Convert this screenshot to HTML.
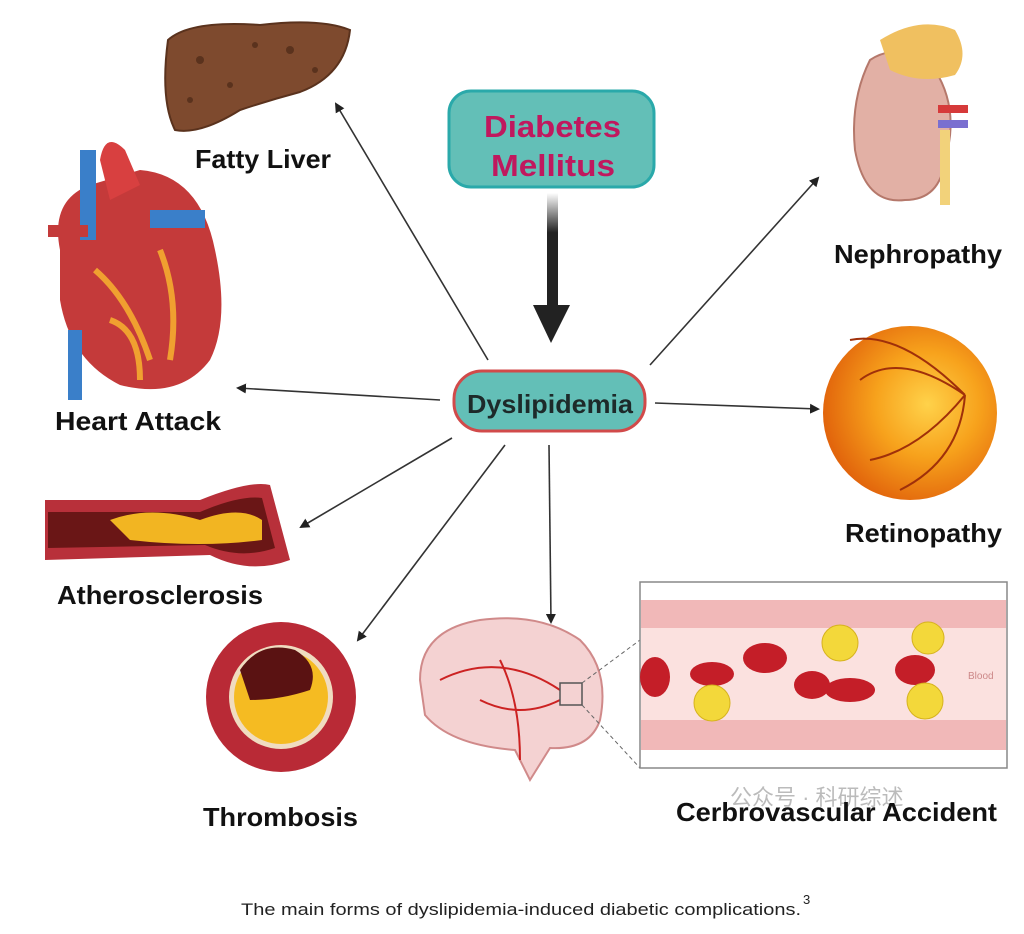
<!DOCTYPE html>
<html><head><meta charset="utf-8"><style>
html,body{margin:0;padding:0;background:#fff;}
svg{display:block;}
text{font-family:"Liberation Sans",sans-serif;}
</style></head><body>
<svg width="1024" height="934" viewBox="0 0 1024 934" xmlns="http://www.w3.org/2000/svg">
<defs>
<marker id="ah" markerWidth="10" markerHeight="10" refX="8" refY="5" orient="auto" markerUnits="userSpaceOnUse"><path d="M0,0 L10,5 L0,10 z" fill="#222"/></marker>
<linearGradient id="sh" x1="0" y1="0" x2="0" y2="1"><stop offset="0" stop-color="#fff"/><stop offset="0.35" stop-color="#222"/><stop offset="1" stop-color="#222"/></linearGradient>
<radialGradient id="ret" cx="0.6" cy="0.45" r="0.6"><stop offset="0" stop-color="#ffd24a"/><stop offset="0.5" stop-color="#f7a21c"/><stop offset="1" stop-color="#e2650c"/></radialGradient>
</defs>

<g stroke="#333" stroke-width="1.6" fill="none" marker-end="url(#ah)">
<line x1="488" y1="360" x2="336" y2="104"/>
<line x1="440" y1="400" x2="238" y2="388"/>
<line x1="452" y1="438" x2="301" y2="527"/>
<line x1="505" y1="445" x2="358" y2="640"/>
<line x1="549" y1="445" x2="551" y2="622"/>
<line x1="655" y1="403" x2="818" y2="409"/>
<line x1="650" y1="365" x2="818" y2="178"/>
</g>

<rect x="449" y="91" width="205" height="96" rx="22" fill="#63bfb7" stroke="#2aa9aa" stroke-width="3"/>
<text x="484" y="137" textLength="137" lengthAdjust="spacingAndGlyphs" font-size="31" font-weight="bold" fill="#c0185e">Diabetes</text>
<text x="491" y="176" textLength="124" lengthAdjust="spacingAndGlyphs" font-size="31" font-weight="bold" fill="#c0185e">Mellitus</text>
<rect x="547" y="193" width="11" height="113" fill="url(#sh)"/>
<path d="M533,305 L570,305 L551,343 z" fill="#222"/>

<rect x="454" y="371" width="191" height="60" rx="28" fill="#63bfb7" stroke="#d14a4a" stroke-width="3"/>
<text x="467" y="413" textLength="166" lengthAdjust="spacingAndGlyphs" font-size="26" font-weight="bold" fill="#1d2a2a">Dyslipidemia</text>

<!-- Liver -->
<path d="M168,40 Q190,20 260,25 Q320,18 350,30 Q345,75 300,92 Q270,100 240,110 Q200,135 175,130 Q160,100 168,40z" fill="#7e4a2e" stroke="#5a321d" stroke-width="2"/>
<g fill="#5a321d"><circle cx="200" cy="60" r="4"/><circle cx="230" cy="85" r="3"/><circle cx="290" cy="50" r="4"/><circle cx="315" cy="70" r="3"/><circle cx="190" cy="100" r="3"/><circle cx="255" cy="45" r="3"/></g>
<text x="195" y="168" textLength="136" lengthAdjust="spacingAndGlyphs" font-size="26" font-weight="bold" fill="#111">Fatty Liver</text>

<!-- Heart -->
<path d="M60,250 Q50,200 90,185 L140,170 Q200,175 215,250 Q230,320 210,360 Q180,400 120,385 Q70,360 60,300z" fill="#c43a3a"/>
<path d="M100,160 Q105,130 125,150 L140,185 L110,200z" fill="#d84040"/>
<rect x="80" y="150" width="16" height="90" fill="#3a7fc9"/>
<rect x="150" y="210" width="55" height="18" fill="#3a7fc9"/>
<rect x="48" y="225" width="40" height="12" fill="#c43a3a"/>
<rect x="68" y="330" width="14" height="70" fill="#3a7fc9"/>
<path d="M95,270 Q130,300 150,360 M160,250 Q180,300 170,360 M110,320 Q140,330 140,380" stroke="#f0a030" stroke-width="6" fill="none"/>
<text x="55" y="430" textLength="166" lengthAdjust="spacingAndGlyphs" font-size="26" font-weight="bold" fill="#111">Heart Attack</text>

<!-- Atherosclerosis -->
<path d="M45,500 L200,500 Q250,480 270,485 L290,560 Q250,575 210,555 L45,560z" fill="#b8303a"/>
<path d="M48,512 L200,512 Q240,495 262,498 L275,548 Q240,560 205,545 L48,548z" fill="#6a1616"/>
<path d="M110,520 Q150,505 200,520 Q240,505 262,520 L262,540 Q200,548 130,540z" fill="#f2b522"/>
<text x="57" y="604" textLength="206" lengthAdjust="spacingAndGlyphs" font-size="26" font-weight="bold" fill="#111">Atherosclerosis</text>

<!-- Thrombosis -->
<circle cx="281" cy="697" r="75" fill="#b92a36"/>
<circle cx="281" cy="697" r="52" fill="#f0dcc0"/>
<circle cx="281" cy="697" r="47" fill="#f5bb22"/>
<path d="M240,670 Q260,640 295,650 Q320,665 310,690 Q280,700 250,700z" fill="#5a1212"/>
<text x="203" y="826" textLength="155" lengthAdjust="spacingAndGlyphs" font-size="26" font-weight="bold" fill="#111">Thrombosis</text>

<!-- Brain -->
<path d="M420,680 Q420,630 480,620 Q540,612 580,640 Q610,670 600,720 Q590,750 550,748 L530,780 L515,750 Q450,745 425,715z" fill="#f4d2d2" stroke="#d08a8a" stroke-width="2"/>
<path d="M440,680 Q500,650 560,690 M480,700 Q520,720 560,700 M500,660 Q520,700 520,760" stroke="#c22" stroke-width="2" fill="none"/>
<rect x="560" y="683" width="22" height="22" fill="none" stroke="#555" stroke-width="1.5"/>
<line x1="582" y1="683" x2="640" y2="640" stroke="#666" stroke-dasharray="4,3"/>
<line x1="582" y1="705" x2="640" y2="768" stroke="#666" stroke-dasharray="4,3"/>

<!-- Blood vessel box -->
<rect x="640" y="582" width="367" height="186" fill="#fff" stroke="#888" stroke-width="1.5"/>
<rect x="641" y="600" width="365" height="150" fill="#f1b8b8"/>
<rect x="641" y="628" width="365" height="92" fill="#fbe1df"/>
<g fill="#c41e28"><ellipse cx="655" cy="677" rx="15" ry="20"/><ellipse cx="712" cy="674" rx="22" ry="12"/><ellipse cx="765" cy="658" rx="22" ry="15"/><ellipse cx="812" cy="685" rx="18" ry="14"/><ellipse cx="850" cy="690" rx="25" ry="12"/><ellipse cx="915" cy="670" rx="20" ry="15"/></g>
<g fill="#f3d83a" stroke="#d6b21e"><circle cx="840" cy="643" r="18"/><circle cx="928" cy="638" r="16"/><circle cx="712" cy="703" r="18"/><circle cx="925" cy="701" r="18"/></g>
<text x="968" y="679" font-size="10" fill="#c88">Blood</text>
<text x="730" y="805" font-size="22" fill="#bbb" font-family="Liberation Sans,Noto Sans CJK SC,sans-serif">公众号 · 科研综述</text>
<text x="676" y="821" textLength="321" lengthAdjust="spacingAndGlyphs" font-size="26" font-weight="bold" fill="#111">Cerbrovascular Accident</text>

<!-- Kidney -->
<path d="M870,60 Q900,40 935,70 Q960,110 945,160 Q940,200 905,200 Q865,205 855,150 Q850,100 870,60z" fill="#e2b0a5" stroke="#b5786b" stroke-width="2"/>
<path d="M880,40 Q920,15 955,30 Q970,55 955,75 Q920,85 890,70z" fill="#f0c060"/>
<rect x="938" y="105" width="30" height="8" fill="#d63a3a"/>
<rect x="938" y="120" width="30" height="8" fill="#7a6fd0"/>
<rect x="940" y="130" width="10" height="75" fill="#f2d27a"/>
<text x="834" y="263" textLength="168" lengthAdjust="spacingAndGlyphs" font-size="26" font-weight="bold" fill="#111">Nephropathy</text>

<!-- Retina -->
<circle cx="910" cy="413" r="87" fill="url(#ret)"/>
<path d="M965,395 Q900,350 860,380 M965,395 Q920,450 870,460 M965,395 Q900,330 850,340 M965,395 Q960,460 900,490" stroke="#a0300a" stroke-width="2" fill="none"/>
<text x="845" y="542" textLength="157" lengthAdjust="spacingAndGlyphs" font-size="26" font-weight="bold" fill="#111">Retinopathy</text>

<!-- caption -->
<text x="241" y="915" textLength="560" lengthAdjust="spacingAndGlyphs" font-size="17" fill="#222" font-family="DejaVu Sans,sans-serif">The main forms of dyslipidemia-induced diabetic complications.</text>
<text x="803" y="904" font-size="13" fill="#222" font-family="DejaVu Sans,sans-serif">3</text>
</svg>
</body></html>
